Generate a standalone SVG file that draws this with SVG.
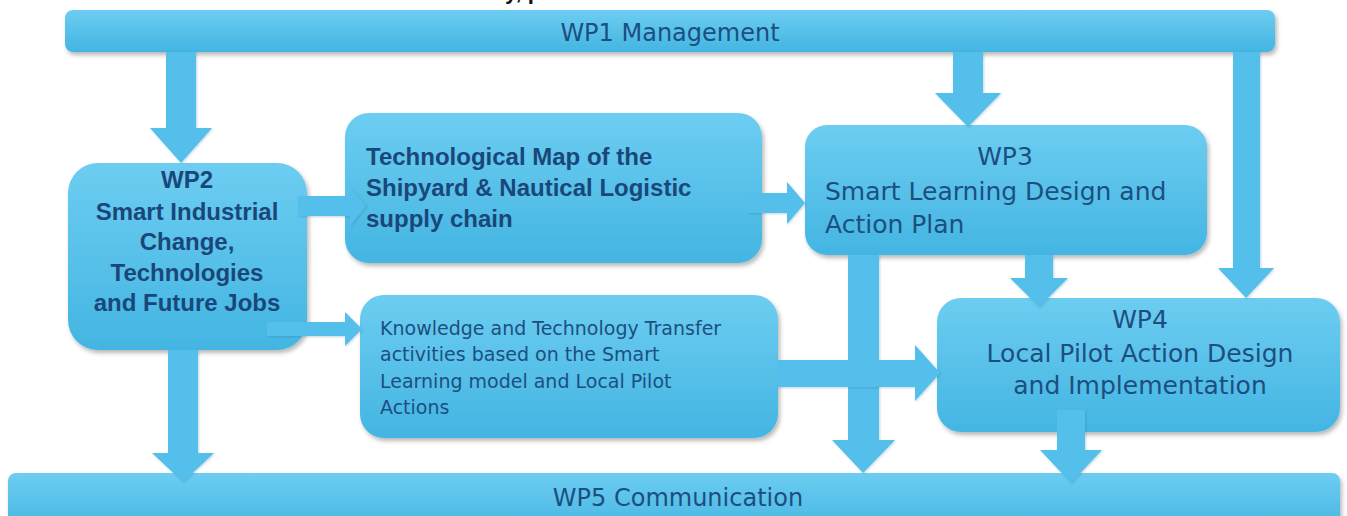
<svg xmlns="http://www.w3.org/2000/svg" width="1347" height="516" viewBox="0 0 1347 516">
  <defs>
    <linearGradient id="gBox" x1="0" y1="0" x2="0" y2="1">
      <stop offset="0" stop-color="#6dcdf1"/>
      <stop offset="1" stop-color="#43b5e2"/>
    </linearGradient>
    <filter id="shadow" x="-5%" y="-10%" width="115%" height="130%">
      <feDropShadow dx="2" dy="3" stdDeviation="2" flood-color="#000" flood-opacity="0.28"/>
    </filter>
    <filter id="ashadow" x="-20%" y="-20%" width="140%" height="140%">
      <feDropShadow dx="1" dy="1" stdDeviation="1" flood-color="#1c5f86" flood-opacity="0.25"/>
    </filter>
  </defs>
  <style>
    .box { fill: url(#gBox); filter: url(#shadow); }
    .arrow { fill: #53bfea; filter: url(#ashadow); }
    .t { font-family: "DejaVu Sans", Verdana, sans-serif; fill: #1c4f80; }
    .b { font-family: "Liberation Sans", Arial, sans-serif; font-weight: bold; fill: #1a4779; font-size: 24px; }
    .c { text-anchor: middle; }
  </style>

  <rect width="1347" height="516" fill="#ffffff"/>

  <!-- clipped line of a heading above the chart -->
  <text x="505" y="-1" font-family="Liberation Sans, Arial, sans-serif" font-weight="bold" font-size="22" fill="#111">y, p</text>

  <g id="wp1">
    <rect class="box" x="65" y="10" width="1210" height="42" rx="8"/>
    <text class="t c" x="670" y="41" font-size="24">WP1 Management</text>
  </g>

  <g id="wp2">
    <rect class="box" x="68" y="163" width="239" height="187" rx="30"/>
    <text class="b c" x="187" y="188">WP2</text>
    <text class="b c" x="187" y="220">Smart Industrial</text>
    <text class="b c" x="187" y="250">Change,</text>
    <text class="b c" x="187" y="281">Technologies</text>
    <text class="b c" x="187" y="311">and Future Jobs</text>
  </g>

  <g id="techmap">
    <rect class="box" x="345" y="113" width="417" height="150" rx="24"/>
    <text class="b" x="366" y="165">Technological Map of the</text>
    <text class="b" x="366" y="196">Shipyard &amp; Nautical Logistic</text>
    <text class="b" x="366" y="227">supply chain</text>
  </g>

  <g id="wp3">
    <rect class="box" x="805" y="125" width="402" height="130" rx="22"/>
    <text class="t c" x="1005" y="165" font-size="25">WP3</text>
    <text class="t" x="825" y="200" font-size="25">Smart Learning Design and</text>
    <text class="t" x="825" y="233" font-size="25">Action Plan</text>
  </g>

  <g id="transfer">
    <rect class="box" x="360" y="295" width="418" height="143" rx="24"/>
    <text class="t" x="380" y="335" font-size="19">Knowledge and Technology Transfer</text>
    <text class="t" x="380" y="361" font-size="19">activities based on the Smart</text>
    <text class="t" x="380" y="388" font-size="19">Learning model and Local Pilot</text>
    <text class="t" x="380" y="414" font-size="19">Actions</text>
  </g>

  <g id="wp4">
    <rect class="box" x="937" y="298" width="403" height="134" rx="24"/>
    <text class="t c" x="1140" y="328" font-size="25">WP4</text>
    <text class="t c" x="1140" y="362" font-size="25">Local Pilot Action Design</text>
    <text class="t c" x="1140" y="394" font-size="25">and Implementation</text>
  </g>

  <g id="wp5">
    <rect class="box" x="8" y="473" width="1332" height="60" rx="8"/>
    <text class="t c" x="678" y="506" font-size="24">WP5 Communication</text>
  </g>

  <!-- block arrows between work packages -->
  <g id="connectors">
    <polygon class="arrow" points="166,52 196,52 196,128 212,128 181,163 150,128 166,128"/>
    <polygon class="arrow" points="953,52 983,52 983,93 1001,93 968,127 935,93 953,93"/>
    <polygon class="arrow" points="1233,52 1260,52 1260,268 1274,268 1246,298 1218,268 1233,268"/>
    <polygon class="arrow" points="1025,255 1053,255 1053,278 1068,278 1039,307 1010,278 1025,278"/>
    <polygon class="arrow" points="848,255 879,255 879,440 895,440 863,473 832,440 848,440"/>
    <polygon class="arrow" points="168,350 198,350 198,453 214,453 183,482 152,453 168,453"/>
    <polygon class="arrow" points="1057,410 1085,410 1085,450 1102,450 1071,483 1040,450 1057,450"/>
    <polygon class="arrow" points="298,196 350,196 350,186 366,206 350,226 350,216 298,216"/>
    <polygon class="arrow" points="747,193 787,193 787,182 805,203 787,224 787,213 747,213"/>
    <polygon class="arrow" points="267,322 345,322 345,312 362,329 345,346 345,336 267,336"/>
    <polygon class="arrow" points="778,360 915,360 915,345 940,373 915,401 915,387 778,387"/>
  </g>
</svg>
